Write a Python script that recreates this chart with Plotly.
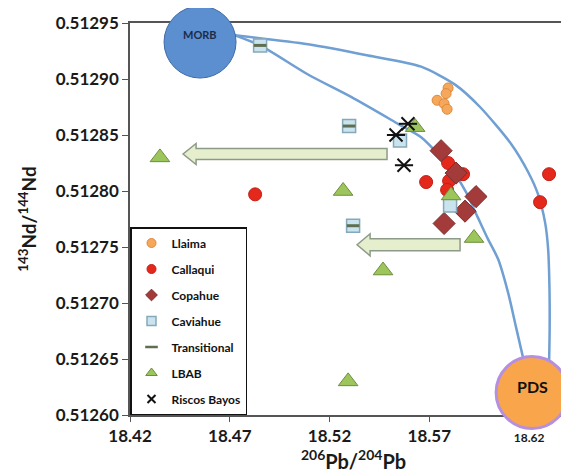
import plotly.graph_objects as go

# ---------------- data ----------------
llaima_x = [18.5794, 18.5784, 18.5739, 18.5774, 18.5789]
llaima_y = [0.512892, 0.512887, 0.512881, 0.512878, 0.512873]

callaqui_x = [18.4827, 18.5684, 18.5794, 18.5869, 18.5799, 18.5789, 18.6300, 18.6255]
callaqui_y = [0.512797, 0.512808, 0.512825, 0.512815, 0.512809, 0.512801, 0.512815, 0.512790]

copahue_x = [18.5759, 18.5834, 18.5934, 18.5879, 18.5774]
copahue_y = [0.512836, 0.512816, 0.512795, 0.512782, 0.512771]

caviahue_x = [18.4852, 18.5298, 18.5318, 18.5553, 18.5804]
caviahue_y = [0.512930, 0.512858, 0.512769, 0.512845, 0.512787]

transitional_x = [18.4852, 18.5298, 18.5318]
transitional_y = [0.512930, 0.512858, 0.512769]

lbab_x = [18.4350, 18.5268, 18.5468, 18.5293, 18.5924, 18.5629, 18.5809]
lbab_y = [0.512830, 0.512800, 0.512729, 0.512630, 0.512758, 0.512857, 0.512796]

riscos_x = [18.5533, 18.5593, 18.5573]
riscos_y = [0.512850, 0.512860, 0.512823]

# end members
morb_x, morb_y = [18.4551], [0.512933]
pds_x, pds_y = [18.6215], [0.512620]

# mixing curves
outer_x = [18.4726, 18.5092, 18.5393, 18.5659, 18.5829, 18.5954, 18.6110, 18.6195,
           18.6245, 18.6280, 18.6295, 18.6302, 18.6303, 18.6300]
outer_y = [0.512939, 0.512931, 0.512921, 0.512911, 0.512895, 0.512875, 0.512842, 0.512817,
           0.512797, 0.512772, 0.512749, 0.512714, 0.512678, 0.512645]
inner_x = [18.4726, 18.4852, 18.5092, 18.5308, 18.5543, 18.5659, 18.5759, 18.5829,
           18.5884, 18.5944, 18.5994, 18.6045, 18.6095, 18.6135, 18.6170]
inner_y = [0.512939, 0.512930, 0.512904, 0.512884, 0.512860, 0.512848, 0.512830, 0.512815,
           0.512799, 0.512776, 0.512757, 0.512739, 0.512709, 0.512678, 0.512651]

# block arrows (tail x, tip x, centre y)
arrow_tail_x = [18.5488, 18.5854]
arrow_tip_x = [18.4466, 18.5338]
arrow_y = [0.512833, 0.512752]

x_ticks = [18.42, 18.47, 18.52, 18.57, 18.62]
x_ticktext = ["18.42", "18.47", "18.52", "18.57", "<span style='font-size:12px'>18.62</span>"]
y_ticks = [0.51260, 0.51265, 0.51270, 0.51275, 0.51280, 0.51285, 0.51290, 0.51295]

X_RANGE = [18.42, 18.644]
Y_RANGE = [0.51260, 0.51295]

W, H = 569, 475
M_L, M_R, M_T, M_B = 122, 0, 15, 68
plot_w = W - M_L - M_R
plot_h = H - M_T - M_B
dx = (X_RANGE[1] - X_RANGE[0]) / plot_w   # data units per pixel
dy = (Y_RANGE[1] - Y_RANGE[0]) / plot_h

FONT = "Lato"
BLACK = "#111111"
TRANS = "#5e6e50"

fig = go.Figure()

# mixing curves
for cx, cy in [(outer_x, outer_y), (inner_x, inner_y)]:
    fig.add_trace(go.Scatter(x=cx, y=cy, mode="lines",
                             line=dict(color="#6f9fd3", width=2.5, shape="spline", smoothing=0.7),
                             showlegend=False, hoverinfo="skip", cliponaxis=False))

# end-member circles
fig.add_trace(go.Scatter(x=morb_x, y=morb_y, mode="markers", showlegend=False, cliponaxis=False,
                         marker=dict(size=72, color="#5b8fd0", line=dict(color="#3e6ba8", width=1))))
fig.add_trace(go.Scatter(x=pds_x, y=pds_y, mode="markers", showlegend=False, cliponaxis=False,
                         marker=dict(size=72, color="#f8a54b", line=dict(color="#b690e0", width=3))))

# data series
fig.add_trace(go.Scatter(x=llaima_x, y=llaima_y, mode="markers", showlegend=False,
                         marker=dict(symbol="circle", size=10, color="#f5a75c", line=dict(color="#e08a3c", width=1))))
fig.add_trace(go.Scatter(x=callaqui_x, y=callaqui_y, mode="markers", showlegend=False, cliponaxis=False,
                         marker=dict(symbol="circle", size=13, color="#e5281c", line=dict(color="#c21f17", width=1))))
fig.add_trace(go.Scatter(x=copahue_x, y=copahue_y, mode="markers", showlegend=False,
                         marker=dict(symbol="diamond", size=17, color="#a33b3b", line=dict(color="#7e2c2c", width=1))))
fig.add_trace(go.Scatter(x=caviahue_x, y=caviahue_y, mode="markers", showlegend=False,
                         marker=dict(symbol="square", size=13, color="#c9e4ef", line=dict(color="#86a8b8", width=1.5))))
fig.add_trace(go.Scatter(x=transitional_x, y=transitional_y, mode="markers", showlegend=False,
                         marker=dict(symbol="line-ew-open", size=9, color=TRANS, line=dict(color=TRANS, width=3))))
fig.add_trace(go.Scatter(x=lbab_x, y=lbab_y, mode="markers", showlegend=False,
                         marker=dict(symbol="triangle-up", size=17, color="#9cc65c", line=dict(color="#6d8d3c", width=1))))
fig.add_trace(go.Scatter(x=riscos_x, y=riscos_y, mode="markers", showlegend=False,
                         marker=dict(symbol="x-thin-open", size=13, color=BLACK, line=dict(color=BLACK, width=2))))
fig.add_trace(go.Scatter(x=riscos_x, y=riscos_y, mode="markers", showlegend=False,
                         marker=dict(symbol="line-ew-open", size=13, color=BLACK, line=dict(color=BLACK, width=2))))

# legend entries (small symbols like the original key)
legend_items = [
    ("Llaima", dict(symbol="circle", size=9, color="#f5a75c", line=dict(color="#e08a3c", width=1))),
    ("Callaqui", dict(symbol="circle", size=9, color="#e5281c", line=dict(color="#c21f17", width=1))),
    ("Copahue", dict(symbol="diamond", size=9, color="#a33b3b", line=dict(color="#7e2c2c", width=1))),
    ("Caviahue", dict(symbol="square", size=9, color="#c9e4ef", line=dict(color="#86a8b8", width=1.5))),
    ("Transitional", dict(symbol="line-ew-open", size=9, color=TRANS, line=dict(color=TRANS, width=2.5))),
    ("LBAB", dict(symbol="triangle-up", size=10, color="#9cc65c", line=dict(color="#6d8d3c", width=1))),
    ("Riscos Bayos", dict(symbol="x-thin-open", size=8, color=BLACK, line=dict(color=BLACK, width=2))),
]
for i, (name, mk) in enumerate(legend_items):
    fig.add_trace(go.Scatter(x=[None], y=[None], mode="markers", name=name, marker=mk,
                             legendgroup=f"g{i}", showlegend=True))

# block arrows
shapes = []
for tail, tip, yc, bh, hh in zip(arrow_tail_x, arrow_tip_x, arrow_y, [5.5, 6], [10.5, 11]):
    hb = tip + 13 * dx
    path = (f"M {tail},{yc - bh*dy} L {hb},{yc - bh*dy} L {hb},{yc - hh*dy} L {tip},{yc} "
            f"L {hb},{yc + hh*dy} L {hb},{yc + bh*dy} L {tail},{yc + bh*dy} Z")
    shapes.append(dict(type="path", path=path, xref="x", yref="y", layer="below",
                       fillcolor="#e5efce", line=dict(color="#8e9a88", width=1.5)))

annotations = [
    dict(x=morb_x[0], y=morb_y[0], xref="x", yref="y", text="MORB", showarrow=False, yshift=8,
         font=dict(family=FONT, size=11, color="#1d2b48", weight="bold")),
    dict(x=pds_x[0], y=pds_y[0], xref="x", yref="y", text="PDS", showarrow=False, yshift=6,
         font=dict(family=FONT, size=16, color=BLACK, weight="bold")),
]

fig.update_layout(
    width=W, height=H,
    margin=dict(l=M_L, r=M_R, t=M_T, b=M_B, autoexpand=False),
    paper_bgcolor="white", plot_bgcolor="white",
    shapes=shapes, annotations=annotations,
    font=dict(family=FONT, color="#1a1a1a"),
    legend=dict(x=0, y=0, xanchor="left", yanchor="bottom", bgcolor="white",
                bordercolor=BLACK, borderwidth=1.5, tracegroupgap=7,
                font=dict(family=FONT, size=12, color=BLACK, weight="bold"),
                itemwidth=30),
    xaxis=dict(range=X_RANGE, tickvals=x_ticks, ticktext=x_ticktext, showgrid=False, zeroline=False,
               showline=True, linecolor="#555555", linewidth=1.5, mirror=True, ticks="outside",
               ticklen=5, tickcolor="#555555", layer="below traces",
               tickfont=dict(family=FONT, size=17, color="#1a1a1a", weight="bold"),
               title=dict(text="<sup>206</sup>Pb/<sup>204</sup>Pb", standoff=4,
                          font=dict(family=FONT, size=20, color="#1a1a1a", weight="bold"))),
    yaxis=dict(range=Y_RANGE, tickvals=y_ticks, tickformat=".5f", showgrid=False, zeroline=False,
               showline=True, linecolor="#555555", linewidth=1.5, ticks="outside",
               ticklen=6, tickcolor="#555555", layer="below traces",
               tickfont=dict(family=FONT, size=17, color="#1a1a1a", weight="bold"),
               title=dict(text="<sup>143</sup>Nd/<sup>144</sup>Nd", standoff=14,
                          font=dict(family=FONT, size=19, color="#1a1a1a", weight="bold"))),
)

fig.write_html("out.html")
